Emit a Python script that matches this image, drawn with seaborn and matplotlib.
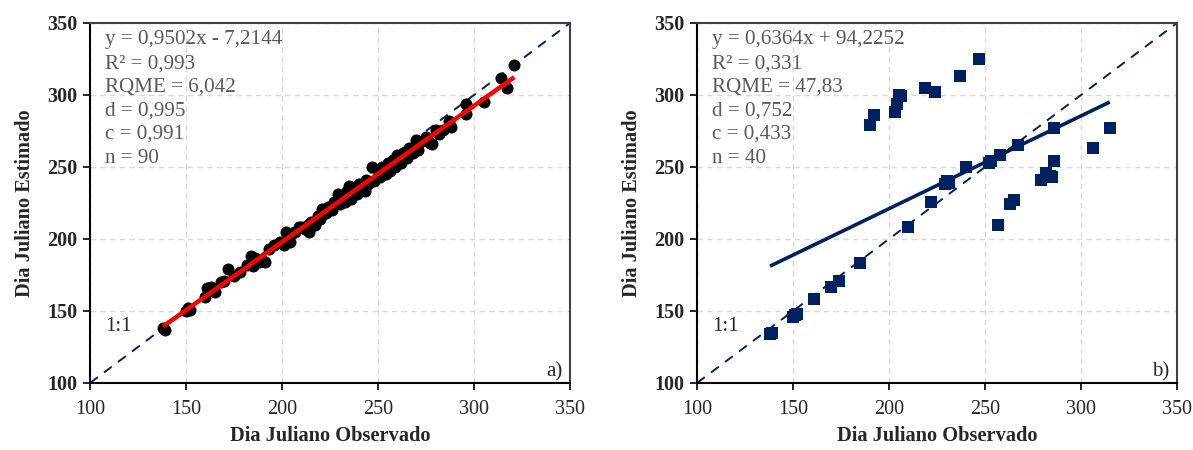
import numpy as np
import pandas as pd
import matplotlib
matplotlib.use("Agg")
import matplotlib.pyplot as plt
import seaborn as sns

# ---------------- data ----------------
obs_a = [138, 139, 150, 151, 152, 160, 161, 163, 165, 168, 170, 172, 175, 178, 182,
         184, 185, 186, 188, 190, 191, 193, 196, 199, 201, 202, 203, 204, 205, 207,
         209, 210, 212, 214, 215, 217, 219, 220, 221, 223, 224, 226, 227, 229, 230,
         231, 233, 234, 235, 236, 238, 239, 240, 241, 243, 244, 245, 247, 248, 250,
         251, 252, 254, 255, 256, 258, 259, 260, 262, 263, 265, 266, 268, 270, 271,
         273, 275, 277, 278, 280, 282, 284, 287, 288, 296, 296, 305, 314, 317, 321]
est_a = [138, 137, 150, 152, 151, 160, 166, 167, 163, 170, 171, 179, 174, 177, 182,
         188, 181, 187, 184, 185, 184, 193, 196, 198, 196, 205, 200, 198, 204, 205,
         208, 208, 207, 205, 212, 210, 216, 214, 221, 218, 222, 220, 226, 231, 224,
         229, 226, 233, 237, 228, 236, 231, 238, 234, 233, 241, 238, 250, 240, 247,
         243, 250, 245, 253, 247, 255, 250, 258, 253, 260, 256, 263, 260, 269, 262,
         268, 271, 267, 266, 276, 273, 276, 282, 278, 294, 287, 295, 312, 305, 321]

obs_b = [138, 139, 150, 151, 152, 161, 170, 174, 185, 210,
         190, 192, 203, 204, 205, 206, 219, 224, 237, 247,
         222, 229, 230, 231, 240, 252, 253, 257, 258, 263,
         265, 267, 279, 282, 284, 285, 286, 286, 306, 315]
est_b = [134, 135, 146, 147, 148, 158, 167, 171, 183, 208,
         279, 286, 288, 294, 300, 299, 305, 302, 313, 325,
         226, 238, 240, 239, 250, 253, 254, 210, 258, 224,
         227, 265, 241, 246, 244, 243, 254, 277, 263, 277]

stats_a = ["y = 0,9502x - 7,2144", "R² = 0,993", "RQME = 6,042",
           "d = 0,995", "c = 0,991", "n = 90"]
stats_b = ["y = 0,6364x + 94,2252", "R² = 0,331", "RQME = 47,83",
           "d = 0,752", "c = 0,433", "n = 40"]
ticks = [100, 150, 200, 250, 300, 350]
panel_tags = ["a)", "b)"]

# ---------------- style ----------------
sns.set_theme(style="white")
plt.rcParams["font.family"] = ["Liberation Serif", "DejaVu Serif"]

NAVY = "#002060"
GRAY_TXT = "#595959"

fig = plt.figure(figsize=(11.93, 4.5), dpi=100)
ax_a = fig.add_axes([90 / 1193, 1 - 383 / 450, 480 / 1193, 360 / 450])
ax_b = fig.add_axes([697 / 1193, 1 - 383 / 450, 480 / 1193, 360 / 450])

df_a = pd.DataFrame({"obs": obs_a, "est": est_a})
df_b = pd.DataFrame({"obs": obs_b, "est": est_b})


def style_axes(ax, tag, stats):
    ax.set_xlim(100, 350)
    ax.set_ylim(100, 350)
    ax.set_xticks(ticks)
    ax.set_yticks(ticks)
    ax.set_xticklabels([str(t) for t in ticks], fontsize=14.5)
    ax.set_yticklabels([str(t) for t in ticks], fontsize=14.5, fontweight="bold")
    ax.grid(True, color="#d9d9d9", linestyle=(0, (4, 3)), linewidth=1.0)
    ax.set_axisbelow(True)
    for s in ["left", "bottom"]:
        ax.spines[s].set_color("black")
        ax.spines[s].set_linewidth(1.5)
    for s in ["top", "right"]:
        ax.spines[s].set_color("#404040")
        ax.spines[s].set_linewidth(1.5)
    ax.tick_params(axis="x", direction="out", length=5, width=1.2,
                   color="black", pad=7, bottom=True)
    ax.tick_params(axis="y", direction="out", length=5, width=1.2,
                   color="black", pad=4, left=True)
    ax.set_xlabel("Dia Juliano Observado", fontsize=14.7, fontweight="bold", labelpad=5)
    ax.set_ylabel("Dia Juliano Estimado", fontsize=14.7, fontweight="bold", labelpad=9)
    # 1:1 line
    ax.plot([100, 350], [100, 350], color=NAVY, linestyle=(0, (5, 4)), linewidth=1.4, zorder=2)
    ax.text(108, 139, "1:1", fontsize=15, color="#262626", va="center", ha="left")
    ax.text(346, 108, tag, fontsize=15, color="#262626", va="center", ha="right")
    for i, line in enumerate(stats):
        ax.text(108, 338.2 - 16.4 * i, line, fontsize=15.2, color=GRAY_TXT,
                va="center", ha="left")


# panel a
sns.scatterplot(data=df_a, x="obs", y="est", ax=ax_a, color="black", marker="o",
                s=75, edgecolor="black", linewidth=0, zorder=3)
ca = np.polyfit(df_a["obs"], df_a["est"], 1)
xa = np.array([df_a["obs"].min(), df_a["obs"].max()])
ax_a.plot(xa, np.polyval(ca, xa), color="#ff0000", linewidth=3.2, zorder=4,
          solid_capstyle="butt")
style_axes(ax_a, panel_tags[0], stats_a)

# panel b
sns.scatterplot(data=df_b, x="obs", y="est", ax=ax_b, color=NAVY, marker="s",
                s=75, edgecolor=NAVY, linewidth=0, zorder=3)
cb = np.polyfit(df_b["obs"], df_b["est"], 1)
xb = np.array([df_b["obs"].min(), df_b["obs"].max()])
ax_b.plot(xb, np.polyval(cb, xb), color=NAVY, linewidth=2.6, zorder=4,
          solid_capstyle="butt")
style_axes(ax_b, panel_tags[1], stats_b)

fig.savefig("out.png", dpi=100)
